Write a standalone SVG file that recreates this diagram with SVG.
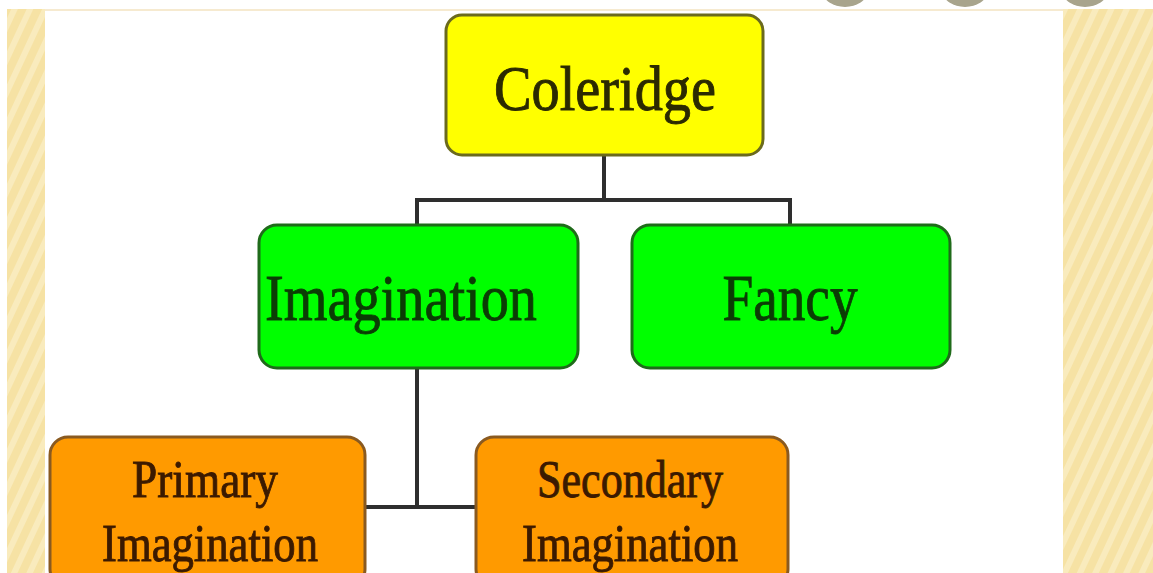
<svg xmlns="http://www.w3.org/2000/svg" width="1153" height="573" viewBox="0 0 1153 573">
<defs>
<pattern id="stripes" patternUnits="userSpaceOnUse" width="14" height="14" patternTransform="rotate(25)">
<rect width="14" height="14" fill="#f6e2a4"/>
<rect width="6" height="14" fill="#f9ebbd"/>
</pattern>
<style>
.t{font-family:"Liberation Serif","Times New Roman",serif;text-anchor:middle;stroke-width:0.9}
.conn{stroke:#2e2e2e;stroke-width:4;fill:none}
.yel{fill:#ffff00;stroke:#6b6a1e;stroke-width:3}
.grn{fill:#00ff00;stroke:#1f6b1a;stroke-width:3}
.org{fill:#ff9a00;stroke:#8a5a20;stroke-width:3}
</style>
</defs>
<rect width="1153" height="573" fill="#ffffff"/>
<rect x="7" y="9" width="38" height="564" fill="url(#stripes)"/>
<rect x="1063" y="9" width="90" height="564" fill="url(#stripes)"/>
<rect x="45" y="9" width="1018" height="2" fill="#f6ead0"/>
<g id="circles" fill="#a8a48c">
<ellipse cx="845" cy="-8" rx="22" ry="15"/>
<ellipse cx="965" cy="-8" rx="22" ry="15"/>
<ellipse cx="1085" cy="-8" rx="22" ry="15"/>
</g>
<g id="connectors">
<path class="conn" d="M604 155 V200 M417 200 H790 M417 198 V226 M790 198 V226"/>
<path class="conn" d="M417 368 V507 M365 507 H476"/>
</g>
<g id="coleridge">
<rect class="yel" x="446" y="15" width="317" height="140" rx="16"/>
<text class="t" x="605" y="110" font-size="64" fill="#2b2a00" stroke="#2b2a00" textLength="222" lengthAdjust="spacingAndGlyphs">Coleridge</text>
</g>
<g id="imagination">
<rect class="grn" x="259" y="225" width="319" height="143" rx="18"/>
<text class="t" x="401" y="320" font-size="66" fill="#0b3d05" stroke="#0b3d05" textLength="272" lengthAdjust="spacingAndGlyphs">Imagination</text>
</g>
<g id="fancy">
<rect class="grn" x="632" y="225" width="318" height="143" rx="18"/>
<text class="t" x="790" y="320" font-size="66" fill="#0b3d05" stroke="#0b3d05" textLength="135" lengthAdjust="spacingAndGlyphs">Fancy</text>
</g>
<g id="primary">
<rect class="org" x="50" y="437" width="315" height="150" rx="18"/>
<text class="t" x="205" y="497" font-size="52" fill="#3b1a00" stroke="#3b1a00" textLength="146" lengthAdjust="spacingAndGlyphs">Primary</text>
<text class="t" x="210" y="561" font-size="52" fill="#3b1a00" stroke="#3b1a00" textLength="216" lengthAdjust="spacingAndGlyphs">Imagination</text>
</g>
<g id="secondary">
<rect class="org" x="476" y="437" width="312" height="150" rx="18"/>
<text class="t" x="630" y="497" font-size="52" fill="#3b1a00" stroke="#3b1a00" textLength="186" lengthAdjust="spacingAndGlyphs">Secondary</text>
<text class="t" x="630" y="561" font-size="52" fill="#3b1a00" stroke="#3b1a00" textLength="216" lengthAdjust="spacingAndGlyphs">Imagination</text>
</g>
</svg>
